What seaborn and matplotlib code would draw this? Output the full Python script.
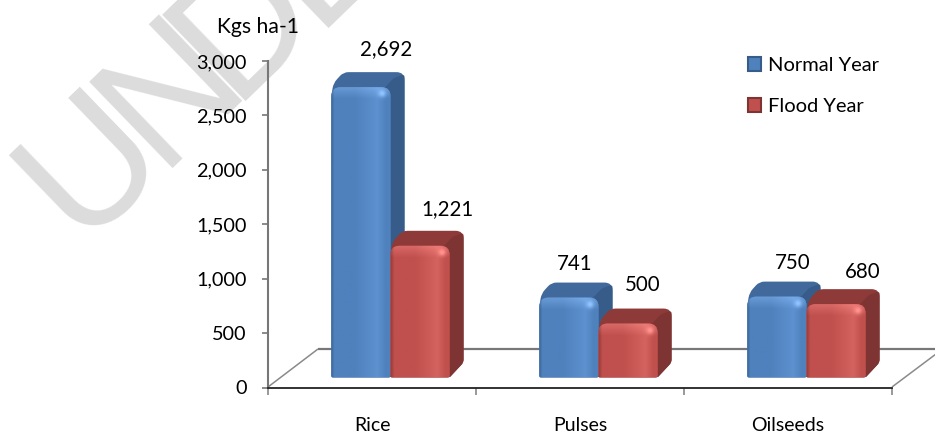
import numpy as np
import pandas as pd
import seaborn as sns
import matplotlib.pyplot as plt
from matplotlib.patches import PathPatch
from matplotlib.path import Path
from matplotlib.transforms import IdentityTransform

crops = ['Rice', 'Pulses', 'Oilseeds']
normal_year = [2692, 741, 750]
flood_year = [1221, 500, 680]
y_ticks = [0, 500, 1000, 1500, 2000, 2500, 3000]

W, H = 935, 434
depth_x, depth_y = 14, 15      # fake 3d depth in pixels
base_units = 92                # bars stand a bit above the front floor line
height_scale = 0.991           # the 3d projection of the original is not quite the axis scale
shift = 18.5 / 208             # bars sit right of the category centre

styles = {
    'Normal Year': dict(front='#4f81bd', light='#5d91cf', dark='#3a659c', top='#41699c', side='#375c8a'),
    'Flood Year': dict(front='#c0504d', light='#d4625e', dark='#a03f3d', top='#8e3a38', side='#7d3432'),
}
# pixel nudges of the value labels from the back top corner of each bar
label_nudges = {
    ('Normal Year', 0): (25, -23), ('Flood Year', 0): (27, -22),
    ('Normal Year', 1): (6, -19), ('Flood Year', 1): (15, -24),
    ('Normal Year', 2): (16, -19), ('Flood Year', 2): (27, -17),
}

sns.set_style('white')
plt.rcParams['font.family'] = ['Lato', 'DejaVu Sans']

df = pd.DataFrame({
    'crop': crops * 2,
    'value': normal_year + flood_year,
    'year': ['Normal Year'] * 3 + ['Flood Year'] * 3,
})

fig = plt.figure(figsize=(W / 100, H / 100), dpi=100)
ax = fig.add_axes([268 / W, (H - 387.5) / H, 624 / W, 326.5 / H])
ax.patch.set_visible(False)

sns.barplot(data=df, x='crop', y='value', hue='year', hue_order=list(styles),
            palette=[s['front'] for s in styles.values()], width=0.568, gap=0,
            saturation=1, ax=ax, zorder=3)
ax.set_xlim(-0.5, 2.5)
ax.set_ylim(0, 3000)
ax.set_yticks(y_ticks)
ax.set_yticklabels([f'{t:,}' for t in y_ticks])
ax.set_xlabel('')
ax.set_ylabel('')
xlim, ylim = ax.get_xlim(), ax.get_ylim()


def rounded(points, radii):
    # closed outline with each corner rounded by its own radius
    verts, codes = [], []
    n = len(points)
    for i in range(n):
        p = np.array(points[i], float)
        a = np.array(points[i - 1], float)
        b = np.array(points[(i + 1) % n], float)
        r = radii[i]
        p0 = p + (a - p) / np.linalg.norm(a - p) * r
        p1 = p + (b - p) / np.linalg.norm(b - p) * r
        verts += [p0, p, p1]
        codes += [Path.MOVETO if i == 0 else Path.LINETO, Path.CURVE3, Path.CURVE3]
    verts.append(verts[0])
    codes.append(Path.CLOSEPOLY)
    return Path(verts, codes)


def hex_rgb(c):
    return np.array(plt.matplotlib.colors.to_rgb(c))


def front_image(st, w, h):
    # horizontal sheen, a lighter band under the top edge and a glare near the corner
    nw, nh = int(w), int(h)
    xs = np.linspace(0, 1, nw)
    stops = [0, 0.05, 0.4, 0.78, 0.92, 1]
    cols = [hex_rgb(st['dark']), hex_rgb(st['front']), hex_rgb(st['front']),
            hex_rgb(st['light']), hex_rgb(st['front']), hex_rgb(st['front'])]
    row = np.stack([np.interp(xs, stops, [c[k] for c in cols]) for k in range(3)], axis=1)
    img = np.repeat(row[None, :, :], nh, axis=0)
    band = np.clip(1 - np.arange(nh) / 12, 0, 1)[:, None, None] * 0.1
    gx, gy = np.meshgrid(np.arange(nw), np.arange(nh))
    glare = np.exp(-((gx - nw + 9) ** 2 + (gy - 7) ** 2) / 14)[:, :, None] * 0.2
    return np.clip(img + band + glare, 0, 1)


for cont, (name, st) in zip(ax.containers, styles.items()):
    for i, bar in enumerate(cont):
        h = bar.get_height()
        bar.set_x(bar.get_x() + shift)
        bar.set_y(base_units)
        drawn = h * height_scale
        bar.set_height(drawn)
        x0, y0 = ax.transData.transform((bar.get_x(), base_units))
        x1, y1 = ax.transData.transform((bar.get_x() + bar.get_width(), base_units + drawn))
        bar.set_visible(False)
        z = 3 + i * 0.1 + (0.05 if name == 'Flood Year' else 0)

        # top and side as one rounded shape behind the front face
        back = rounded([(x0, y1 - 8), (x0 + 2, y1 + 4), (x0 + depth_x - 2, y1 + depth_y),
                        (x1 + depth_x, y1 + depth_y), (x1 + depth_x, y0 + depth_y), (x1, y0), (x0, y0)],
                       [1, 5, 5, 8, 3, 2, 1])
        ax.add_patch(PathPatch(back, transform=IdentityTransform(), fc=st['top'], ec='none', zorder=z))
        side = rounded([(x1 - 9, y1 - 4), (x1 + 3, y1 + 9), (x1 + depth_x, y1 + depth_y - 2),
                        (x1 + depth_x, y0 + depth_y), (x1, y0)], [1, 2, 3, 3, 1])
        ax.add_patch(PathPatch(side, transform=IdentityTransform(), fc=st['side'], ec='none', zorder=z + 0.01))

        front = PathPatch(rounded([(x0, y0), (x0, y1), (x1, y1), (x1, y0)], [2, 9, 9, 2]),
                          transform=IdentityTransform(), fc=st['front'], ec='none', zorder=z + 0.02)
        ax.add_patch(front)
        im = ax.imshow(front_image(st, x1 - x0, y1 - y0), extent=(x0, x1, y0, y1), aspect='auto',
                       transform=IdentityTransform(), zorder=z + 0.03, interpolation='bilinear')
        im.set_clip_path(front)

        nx, ny = label_nudges[(name, i)]
        ax.text((x0 + x1) / 2 + nx, y1 + depth_y - ny, f'{int(h):,}', transform=IdentityTransform(),
                ha='center', va='center', fontsize=14.8, color='#000000', zorder=6)

ax.set_xlim(xlim)
ax.set_ylim(ylim)

# floor of the 3d box
floor_kw = dict(transform=IdentityTransform(), clip_on=False, zorder=2, solid_capstyle='butt')
ax.plot([318, 935], [H - 349, H - 349], color='#777777', lw=1.6, **floor_kw)
ax.plot([268, 318], [H - 387, H - 349], color='#8a8a8a', lw=1.1, **floor_kw)
ax.plot([892, 936], [H - 387, H - 354], color='#8a8a8a', lw=1.1, **floor_kw)

sns.despine(ax=ax)
ax.spines['left'].set_color('#777777')
ax.spines['left'].set_linewidth(1.5)
ax.spines['bottom'].set_color('#222222')
ax.spines['bottom'].set_linewidth(1.3)

ax.tick_params(axis='y', left=True, length=4.5, width=1.2, color='#777777', pad=11,
               labelsize=14.3, labelcolor='#000000')
ax.set_xticks([-0.5, 0.5, 1.5, 2.5], minor=True)
ax.tick_params(axis='x', which='minor', bottom=True, length=5, width=1.2, color='#888888')
ax.tick_params(axis='x', which='major', bottom=False, pad=18, labelsize=14, labelcolor='#000000')

handles, labels = ax.get_legend_handles_labels()
for hd, st in zip(handles, styles.values()):
    hd.set_facecolor(st['front'])
    hd.set_edgecolor(st['side'])
    hd.set_linewidth(1.5)
leg = ax.legend(handles, labels, loc='upper left', bbox_to_anchor=(730 / W, (H - 39) / H),
                bbox_transform=fig.transFigure, frameon=False, fontsize=14.5,
                handlelength=0.65, handleheight=0.65, handletextpad=0.35, labelspacing=1.2)
for t in leg.get_texts():
    t.set_color('#000000')

fig.text(258 / W, 1 - 27 / H, 'Kgs ha-1', ha='center', va='center', fontsize=15.2, color='#000000')

# watermark, sits behind the whole chart
marks = [('U', 93, 165), ('N', 172, 92), ('D', 245, 25), ('E', 325, -45)]
for letter, mx, my in marks:
    fig.text(mx / W, 1 - my / H, letter, rotation=44, rotation_mode='anchor', ha='center', va='center',
             fontsize=125, family=['Liberation Sans Narrow', 'Liberation Sans'], color='#dcdcdc', zorder=-5)

fig.savefig('out.png', dpi=100)
